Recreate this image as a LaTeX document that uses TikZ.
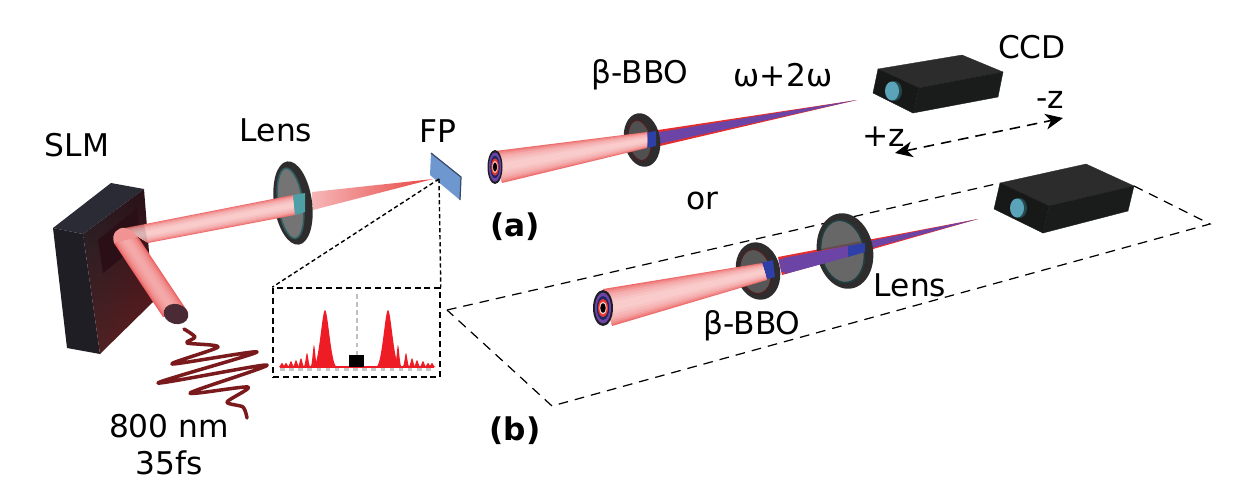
\documentclass[tikz,border=0pt]{standalone}
\usepackage{fontspec}
\setmainfont{DejaVu Sans}
\usetikzlibrary{calc,
shadings,
arrows.meta,
positioning}

\definecolor{beamred}{HTML}{E52F2F}
\definecolor{ringdark}{HTML}{2E2C2C}
\definecolor{ringrim}{HTML}{4A2224}
\definecolor{tealbeam}{HTML}{4F9FA6}
\definecolor{shgblue}{HTML}{2F3FA8}
\definecolor{shgviolet}{HTML}{6B44A6}
\definecolor{camface}{HTML}{1A1B1B}
\definecolor{camtop}{HTML}{2C2C2C}
\definecolor{camlens}{HTML}{5AA3B8}
\definecolor{fpblue}{HTML}{6F97CF}
\definecolor{pulsered}{HTML}{7A1A1C}
\definecolor{specred}{HTML}{EE1C25}
\definecolor{slmtop}{HTML}{2B2B35}
\definecolor{slmside}{HTML}{1E1E24}
\definecolor{slmwin}{HTML}{2A0F16}
\definecolor{capbrown}{HTML}{4A2B35}

% straight beam between two end edges, darker towards its rim
\newcommand{\beam}[4]{
  \fill [beamred!70!white] (#1) -- (#3) -- (#4) -- (#2) -- cycle;
  \foreach \f/\c in {.04/58, .09/48, .15/40, .22/34, .30/29, .38/25} {
    \fill [beamred!\c!white] ($(#1)!\f!(#2)$) -- ($(#3)!\f!(#4)$)
      -- ($(#4)!\f!(#3)$) -- ($(#2)!\f!(#1)$) -- cycle;
  }
}
% converging beam, pale at the optic and red at the focus
\newcommand{\cone}[3]{
  \shade [left color = beamred!35!white, right color = beamred!90!white]
    (#1) -- (#3) -- (#2) -- cycle;
}
% second harmonic cone with its thin red rim
\newcommand{\shgcone}[3]{
  \fill [beamred] (#1) -- (#3) -- (#2) -- cycle;
  \fill [shgviolet] ($(#1)!.14!(#2)$) -- (#3) -- ($(#2)!.14!(#1)$) -- cycle;
}
% mounted optic: centre, x radius, y radius, tilt, rim colour, glass colour
\newcommand{\optic}[6]{
  \fill [#6, opacity = .88, rotate around = {#4:(#1)}]
    ($(#1) + (-2.5, 0)$) ellipse [x radius = #2 - 6.5, y radius = #3 - 6.5];
  \fill [ringdark, even odd rule, rotate around = {#4:(#1)}]
    (#1) ellipse [x radius = #2, y radius = #3]
    ($(#1) + (-2.5, 0)$) ellipse [x radius = #2 - 6.5, y radius = #3 - 6.5];
  \draw [#5, line width = .9pt, rotate around = {#4:(#1)}]
    ($(#1) + (-2.5, 0)$) ellipse [x radius = #2 - 6.5, y radius = #3 - 6.5];
}
% camera body from its seven corners, then the aperture
\newcommand{\camera}[8]{
  \filldraw [camtop, line width = .2pt] (#1) -- (#2) -- (#3) -- (#4) -- cycle;
  \filldraw [camface!90!black, line width = .2pt] (#1) -- (#4) -- (#6) -- (#5) -- cycle;
  \filldraw [camface, line width = .2pt] (#4) -- (#3) -- (#7) -- (#6) -- cycle;
  \fill [tealbeam!45!black] ($(#8) + (2.5, 0)$) ellipse [x radius = 7.5, y radius = 10];
  \fill [camlens] (#8) ellipse [x radius = 7, y radius = 9.5];
}
% sidelobe of the spectrum
\newcommand{\lobe}[3]{
  \fill [specred] (#1 - #3, 367) .. controls (#1 - #3 * .5, 367) and (#1 - #3 * .25, 367 - #2)
    .. (#1, 367 - #2) .. controls (#1 + #3 * .25, 367 - #2) and (#1 + #3 * .5, 367) .. (#1 + #3, 367) -- cycle;
}
% end view of the incoming annular beam
\newcommand{\ringcap}[3]{
  \fill [slmside] (#1) ellipse [x radius = #2, y radius = #3];
  \fill [shgviolet] (#1) ellipse [x radius = #2 * .8, y radius = #3 * .86];
  \fill [shgblue!60!black] (#1) ellipse [x radius = #2 * .62, y radius = #3 * .66];
  \fill [beamred!90!orange] (#1) ellipse [x radius = #2 * .5, y radius = #3 * .5];
  \fill [white!80!red] (#1) ellipse [x radius = #2 * .36, y radius = #3 * .36];
  \fill [black] (#1) ellipse [x radius = #2 * .27, y radius = #3 * .27];
}

\begin{document}
\begin{tikzpicture} [x = .02cm, y = -.02cm,
  >={Stealth[width = 9pt, length = 10pt, inset = 3pt]},
  lbl/.style={font = \fontsize{17.8}{20}\selectfont, inner sep = 0pt},
  tag/.style={lbl, font = \fontsize{17.8}{20}\selectfont\bfseries},
  zoomline/.style={dashed, dash pattern = on 2.4pt off 1.6pt, line width = .8pt},
  planeline/.style={dash pattern = on 5.5pt off 4pt, line width = .7pt},
  main node/.style={rectangle, draw, dash pattern = on 3.4pt off 2.2pt, line width = .9pt,
      inner sep = 0pt, minimum width = 167*.02cm, minimum height = 89*.02cm}]

  \useasboundingbox (0,0) rectangle (1240,498);

  % plane that carries the second arrangement
  \coordinate (pin) at (447,310);
  \coordinate (pfar) at (1210,224);
  \coordinate (pnear) at (552,406);
  \coordinate (pcam) at (1000,183);
  \coordinate (pcamr) at (1134,186);
  \draw [planeline] (pin) -- (pcam);
  \draw [planeline] (pcamr) -- (pfar) -- (pnear) -- (pin);

  % modulator
  \fill [slmtop] (53,228) -- (111,183) -- (144,189) -- (83,234) -- cycle;
  \fill [slmside] (53,228) -- (83,234) -- (100,354) -- (67,348) -- cycle;
  \shade [lower right = ringrim!85!red, upper left = slmside, lower left = ringrim,
    upper right = slmwin] (83,234) -- (144,189) -- (153,302) -- (100,354) -- cycle;
  \fill [slmwin] (98,240) -- (137,208) -- (140,243) -- (103,273) -- cycle;

  % first focusing stage
  \cone{312,192}{313,210}{433,179}
  \optic{293,203}{19}{42}{8}{tealbeam!60!black}{black!62!white}
  \beam{125,228}{148,243}{293,195}{295,215}
  \fill [black, opacity = .12] (125,228) -- (144,224) -- (148,243) -- cycle;
  \fill [tealbeam] (293,195) -- (305,193) -- (305,212) -- (295,215) -- cycle;

  % input beam, bent at the modulator
  \beam{138,237}{114,243}{188,312}{163,317}
  \fill [beamred, opacity = .22] (114,243) -- (163,317) -- (188,312) -- (138,237) -- cycle;
  \fill [beamred!52!white] (114,243) .. controls (111,233) and (118,227) .. (125,228)
    .. controls (130,229) and (135,233) .. (138,237) -- cycle;
  \fill [capbrown, rotate around = {-15:(176,314)}] (176,314) ellipse [x radius = 12.5, y radius = 10];

  % pulse
  \draw [pulsered, line width = 2pt, line cap = round, line join = round]
    plot [smooth, tension = .45] coordinates {(184,329) (195,337) (187,343) (218,347) (172,364)
      (257,352) (158,383) (267,365) (190,393) (248,387) (227,402) (243,407) (247,418)};

  % focal plane
  \fill [fpblue] (431,153) -- (461,177) -- (460,200) -- (430,175) -- cycle;
  \draw [fpblue!50!black, line width = .7pt] (431,153) -- (461,177) -- (460,200);
  \coordinate (fp) at (439,179);

  % spectrum at the focal plane
  \node [main node] (inset) at (356.5,332.5) {};
  \draw [zoomline] (fp) -- (inset.north west);
  \draw [zoomline] (fp) -- (inset.north east);
  \draw [gray!45, line width = 2pt, dash pattern = on 2.6pt off 2.6pt] (280,369) -- (434,369);
  \draw [specred, line width = .8pt] (280,367) -- (434,367);
  \foreach \x/\h in {282/4, 286/4, 291/6, 296/7, 301/9, 307/14, 314/22,
      398/22, 406/14, 412/9, 417/7, 423/6, 428/4, 432/4} {
    \lobe{\x}{\h}{3.6}
  }
  \lobe{325}{57}{12}
  \lobe{388}{57}{12}
  \draw [gray!50, line width = 1.4pt, dash pattern = on 2.6pt off 2pt] (357,294) -- (357,355);
  \fill [black] (349,355) rectangle (364,367);

  % second harmonic line, collimated
  \shgcone{658,130}{660,146}{857,100}
  \optic{642,140}{18}{27}{10}{ringrim}{black!78!white}
  \fill [shgblue] (640,134) -- (656,131) -- (656,146) -- (642,149) -- cycle;
  \beam{495,151}{502,183}{647,132}{647,148}
  \ringcap{495,167}{7.5}{17}

  % second harmonic line with the extra lens
  \shgcone{778,257}{782,275}{978,219}
  \optic{758,271}{22}{29}{12}{ringrim}{black!75!white}
  \fill [shgblue] (760,263) -- (773,260) -- (775,277) -- (763,280) -- cycle;
  \optic{845,251}{28}{38}{10}{black!60!tealbeam}{black!68!white}
  \shgcone{782,257}{785,274}{848,246}
  \fill [shgviolet] (783,258) -- (848,246) -- (848,257) -- (785,274) -- cycle;
  \fill [shgblue] (848,246) -- (865,243) -- (865,252) -- (848,257) -- cycle;
  \beam{603,289}{612,326}{762,263}{767,280}
  \ringcap{603,308}{10}{18}

  % cameras
  \camera{878,69}{962,55}{1003,72}{919,88}{873,93}{913,113}{998,97}{892,91}
  \camera{1000,183}{1086,164}{1134,186}{1049,206}{994,209}{1043,233}{1128,211}{1017,208}

  \coordinate (zplus) at (895,153);
  \coordinate (zminus) at (1063,118);
  \draw [<->, dash pattern = on 6pt off 4pt, line width = .9pt] (zplus) -- (zminus);

  \node [lbl] (slm) at (77,145) {SLM};
  \node [lbl] (lens) at (276,130) {Lens};
  \node [lbl] (fplabel) at (438,131) {FP};
  \node [lbl] (wave) at (169,426) {800 nm};
  \node [lbl] (dur) at (169,463) {35fs};
  \node [lbl] (bbo) at (640,75) {β-BBO};
  \node [lbl] (colors) at (783,75) {ω+2ω};
  \node [lbl] (ccd) at (1032,47) {CCD};
  \node [lbl] (minusz) at (1050,100) {-z};
  \node [lbl] (plusz) at (884,137) {+z};
  \node [lbl] (orword) at (702,201) {or};
  \node [lbl] (lenstwo) at (910,285) {Lens};
  \node [lbl] (bbotwo) at (752,326) {β-BBO};
  \node [tag] (taga) at (515,227) {(a)};
  \node [tag] (tagb) at (515,431) {(b)};

\end{tikzpicture}
\end{document}
